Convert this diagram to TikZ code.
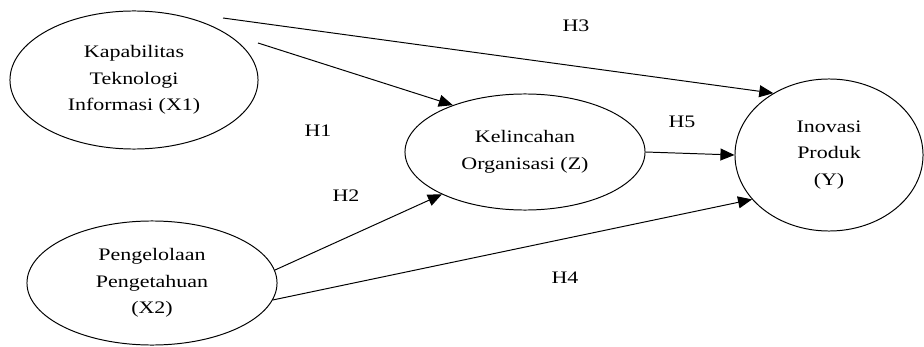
\documentclass[tikz,border=0pt]{standalone}
\usepackage{fontspec}
\setmainfont{Liberation Serif}[FakeStretch=1.25]
\usetikzlibrary{shapes.geometric,arrows.meta}

\begin{document}
\begin{tikzpicture}[x=0.025cm, y=-0.025cm,
    variabel/.style={ellipse, draw, line width=0.7pt, inner sep=0pt, align=center,
        font=\fontsize{12.5}{19}\selectfont},
    panah/.style={line width=0.7pt, -{Triangle[length=10pt, width=8.5pt]}},
    hipotesis/.style={font=\fontsize{12.5}{15}\selectfont}]
        \useasboundingbox (0,0) rectangle (924,347);

        % Variabel bebas
        \node[variabel, minimum width=6.2cm, minimum height=3.45cm] (X1) at (134, 80) {Kapabilitas\\Teknologi\\Informasi (X1)};
        \node[variabel, minimum width=6.25cm, minimum height=3.1cm] (X2) at (152, 283) {Pengelolaan\\Pengetahuan\\(X2)};

        % Variabel mediasi dan terikat
        \node[variabel, minimum width=6cm, minimum height=2.9cm] (Z) at (525, 152) {Kelincahan\\Organisasi (Z)};
        \node[variabel, minimum width=4.7cm, minimum height=3.8cm] (Y) at (829, 155) {Inovasi\\Produk\\(Y)};

        % titik awal panah dari X1
        \coordinate (a3) at (223, 18);
        \coordinate (a1) at (258, 43);

        % Hipotesis
        \draw[panah] (a3) -- (Y.132);
        \draw[panah] (a1) -- (Z.147);
        \draw[panah] (X2.6) -- (Z.207);
        \draw[panah] (X2.-8) -- (Y.210);
        \draw[panah] (Z.east) -- (Y.west);

        % label hipotesis
        \node[hipotesis] (h3) at (576, 26) {H3};
        \node[hipotesis] (h1) at (318, 131) {H1};
        \node[hipotesis] (h5) at (682, 122) {H5};
        \node[hipotesis] (h2) at (346, 196) {H2};
        \node[hipotesis] (h4) at (565, 278) {H4};
    \end{tikzpicture}
\end{document}
